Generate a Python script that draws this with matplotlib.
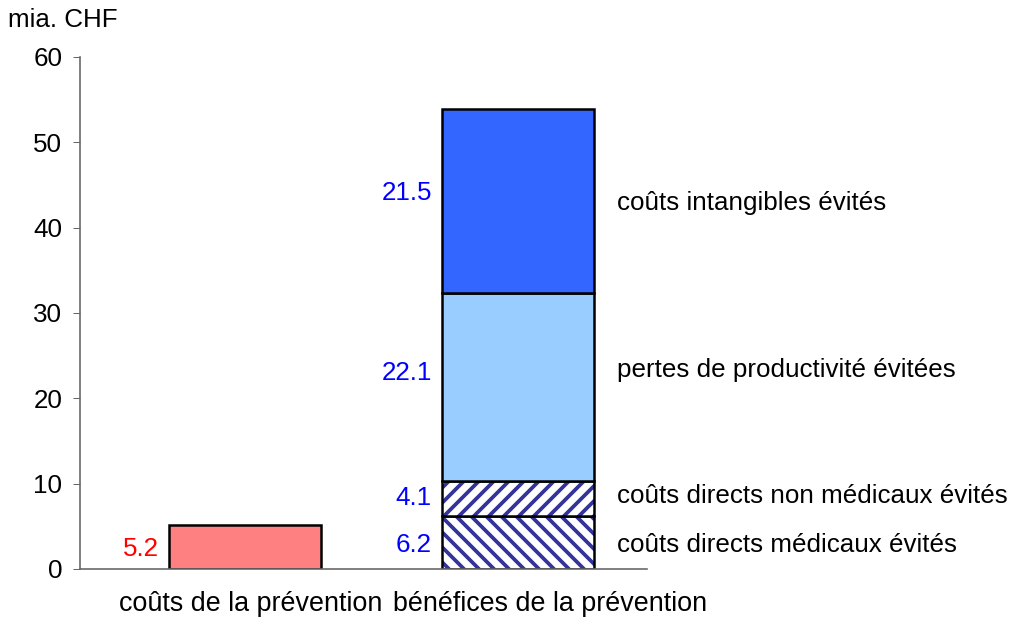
import matplotlib.pyplot as plt
from matplotlib.transforms import ScaledTranslation

plt.rcParams['font.family'] = ['Liberation Sans', 'DejaVu Sans']
plt.rcParams['hatch.linewidth'] = 3.0

categories = ['coûts de la prévention', 'bénéfices de la prévention']
cost_value = 5.2
benefit_parts = ['coûts directs médicaux évités',
                 'coûts directs non médicaux évités',
                 'pertes de productivité évitées',
                 'coûts intangibles évités']
benefit_values = [6.2, 4.1, 22.1, 21.5]
benefit_colors = ['white', 'white', '#99CCFF', '#3366FF']
benefit_hatches = ['\\\\', '//', None, None]
yticks = [0, 10, 20, 30, 40, 50, 60]

# small label nudges in pixels (positive = down), as in the original
value_dy = [2.5, -0.6, -14, -8]
name_dy = [2.5, -2.6, -17, 2]
xlabel_dx = [6, 32]

DPI = 90
fig = plt.figure(figsize=(1015 / DPI, 619 / DPI), dpi=DPI)
ax = fig.add_axes([80 / 1015, 1 - 569 / 619, (647 - 80) / 1015, (569 - 57) / 619])

w = 0.557
fs = 20.8
px = 72 / DPI  # points per pixel

# cost bar
ax.bar(0, cost_value, width=w, color='#FF8080', edgecolor='black', linewidth=2.0)
ax.annotate(f'{cost_value:.1f}', xy=(0 - w / 2, cost_value / 2), xytext=(-10 * px, -2 * px),
            textcoords='offset points', ha='right', va='center', color='#FF0000', fontsize=fs)

# stacked benefits
bottom = 0
for i, (name, val, col, hat) in enumerate(zip(benefit_parts, benefit_values,
                                               benefit_colors, benefit_hatches)):
    if hat:
        ax.bar(1, val, width=w, bottom=bottom, color='white', edgecolor='#333399',
               hatch=hat, linewidth=0)
        ax.bar(1, val, width=w, bottom=bottom, fill=False, edgecolor='black', linewidth=2.0)
    else:
        ax.bar(1, val, width=w, bottom=bottom, color=col, edgecolor='black', linewidth=2.0)
    mid = bottom + val / 2
    ax.annotate(f'{val:.1f}', xy=(1 - w / 2, mid), xytext=(-10 * px, -value_dy[i] * px),
                textcoords='offset points', ha='right', va='center', color='#0000FF', fontsize=fs)
    ax.annotate(name, xy=(1 + w / 2, mid), xytext=(23 * px, -name_dy[i] * px),
                textcoords='offset points', ha='left', va='center', color='black', fontsize=fs)
    bottom += val

ax.set_xlim(-0.604, 1.473)
ax.set_ylim(0, 60)
ax.set_yticks(yticks)
ax.set_xticks([0, 1])
ax.set_xticklabels(categories)
ax.tick_params(axis='x', length=0, pad=17.5, labelsize=21.5)
ax.tick_params(axis='y', direction='out', length=5.6, pad=8.7, labelsize=fs, color='#666666')
for lab, dx in zip(ax.get_xticklabels(), xlabel_dx):
    lab.set_transform(lab.get_transform() + ScaledTranslation(dx / DPI, 0, fig.dpi_scale_trans))
for s in ['top', 'right']:
    ax.spines[s].set_visible(False)
for s in ['left', 'bottom']:
    ax.spines[s].set_color('#666666')
    ax.spines[s].set_linewidth(1.3)

fig.text(8 / 1015, 1 - 20 / 619, 'mia. CHF', ha='left', va='center', fontsize=fs)

fig.savefig('out.png', dpi=DPI)
